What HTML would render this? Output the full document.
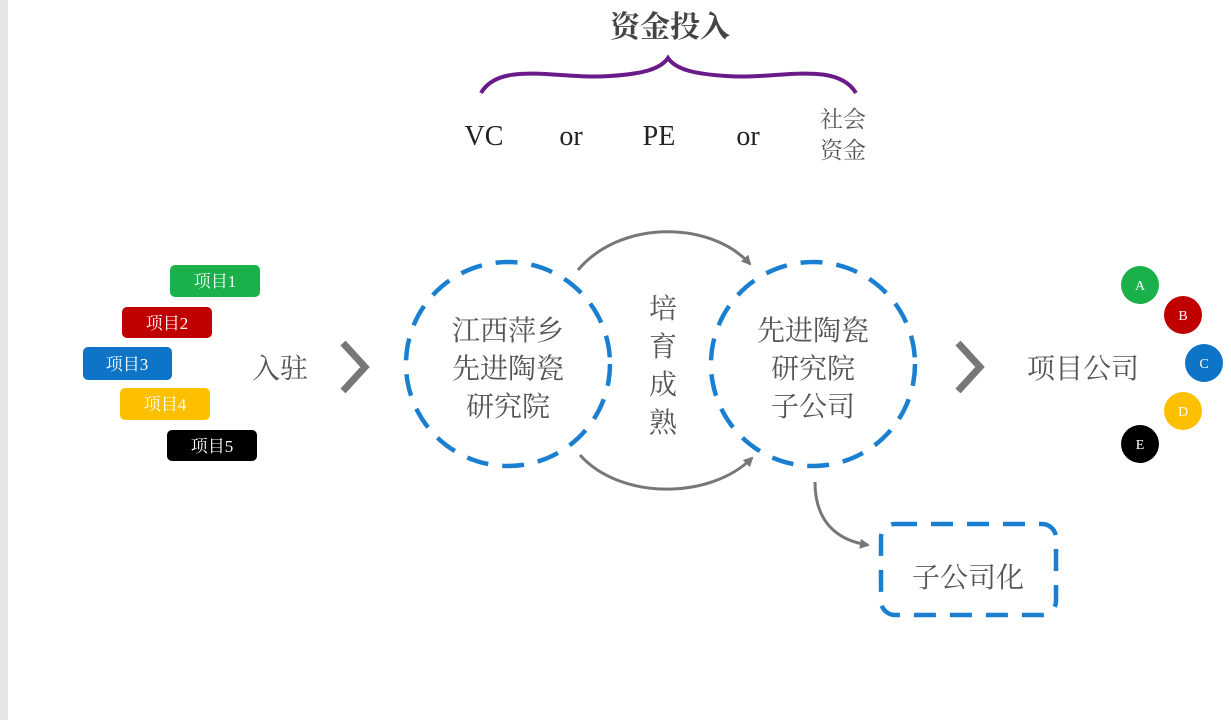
<!DOCTYPE html>
<html><head><meta charset="utf-8"><style>
html,body{margin:0;padding:0;background:#fff;width:1231px;height:720px;overflow:hidden}
svg text{font-family:"Liberation Serif","Noto Serif CJK SC",serif}
</style></head><body>
<svg width="1231" height="720" viewBox="0 0 1231 720" xmlns="http://www.w3.org/2000/svg">
<defs>
<marker id="ah" markerWidth="10" markerHeight="10" refX="8" refY="5" orient="auto" markerUnits="userSpaceOnUse">
<path d="M0,0 L10,5 L0,10 Z" fill="#777"/></marker>
</defs>
<rect x="0" y="0" width="8" height="720" fill="#e4e5e8"/>
<text x="670" y="37" font-size="30" fill="#444" text-anchor="middle" font-weight="bold">资金投入</text>
<path d="M481,93 C500,60 560,80 610,76 C640,74 660,70 668,58 C676,70 696,74 726,76 C776,80 836,60 856,93" fill="none" stroke="#6a1b8a" stroke-width="4"/>
<g fill="#222" font-size="28" text-anchor="middle">
<text x="484" y="145">VC</text><text x="571" y="145">or</text>
<text x="659" y="145">PE</text><text x="748" y="145">or</text></g>
<text x="843" y="127" font-size="23" fill="#555" text-anchor="middle">社会</text>
<text x="843" y="158" font-size="23" fill="#555" text-anchor="middle">资金</text>
<g font-size="17" fill="#fff" text-anchor="middle">
<rect x="170" y="265" width="90" height="32" rx="5" fill="#1ab04a"/><text x="215" y="287">项目1</text>
<rect x="122" y="307" width="90" height="31" rx="5" fill="#c00000"/><text x="167" y="329">项目2</text>
<rect x="83" y="347" width="89" height="33" rx="5" fill="#0e74c7"/><text x="127" y="370">项目3</text>
<rect x="120" y="388" width="90" height="32" rx="5" fill="#fdc000"/><text x="165" y="410">项目4</text>
<rect x="167" y="430" width="90" height="31" rx="5" fill="#000"/><text x="212" y="452">项目5</text>
</g>
<text x="280" y="378" font-size="28" fill="#555" text-anchor="middle">入驻</text>
<path d="M343,343 L365,367 L343,391" fill="none" stroke="#777" stroke-width="7"/>
<path d="M958,343 L980,367 L958,391" fill="none" stroke="#777" stroke-width="7"/>
<circle cx="508" cy="364" r="102" fill="none" stroke="#1a7fd0" stroke-width="4.5" stroke-dasharray="22,14"/>
<circle cx="813" cy="364" r="102" fill="none" stroke="#1a7fd0" stroke-width="4.5" stroke-dasharray="22,14"/>
<g font-size="28" fill="#555" text-anchor="middle">
<text x="508" y="340">江西萍乡</text><text x="508" y="378">先进陶瓷</text><text x="508" y="416">研究院</text>
<text x="813" y="340">先进陶瓷</text><text x="813" y="378">研究院</text><text x="813" y="416">子公司</text>
<text x="663" y="318">培</text><text x="663" y="356">育</text><text x="663" y="394">成</text><text x="663" y="432">熟</text>
<text x="1083" y="378">项目公司</text>
<text x="968" y="587">子公司化</text>
</g>
<path d="M578,270 C620,220 710,220 750,264" fill="none" stroke="#777" stroke-width="3" marker-end="url(#ah)"/>
<path d="M580,455 C620,500 710,500 752,458" fill="none" stroke="#777" stroke-width="3" marker-end="url(#ah)"/>
<path d="M815,482 C815,520 835,540 868,545" fill="none" stroke="#777" stroke-width="3" marker-end="url(#ah)"/>
<rect x="881" y="524" width="175" height="91" rx="14" fill="none" stroke="#1a7fd0" stroke-width="4.5" stroke-dasharray="22,14"/>
<g font-size="14" fill="#fff" text-anchor="middle">
<circle cx="1140" cy="285" r="19" fill="#1ab04a"/><text x="1140" y="290">A</text>
<circle cx="1183" cy="315" r="19" fill="#c00000"/><text x="1183" y="320">B</text>
<circle cx="1204" cy="363" r="19" fill="#0e74c7"/><text x="1204" y="368">C</text>
<circle cx="1183" cy="411" r="19" fill="#fdc000"/><text x="1183" y="416">D</text>
<circle cx="1140" cy="444" r="19" fill="#000"/><text x="1140" y="449">E</text>
</g>
</svg>
</body></html>
